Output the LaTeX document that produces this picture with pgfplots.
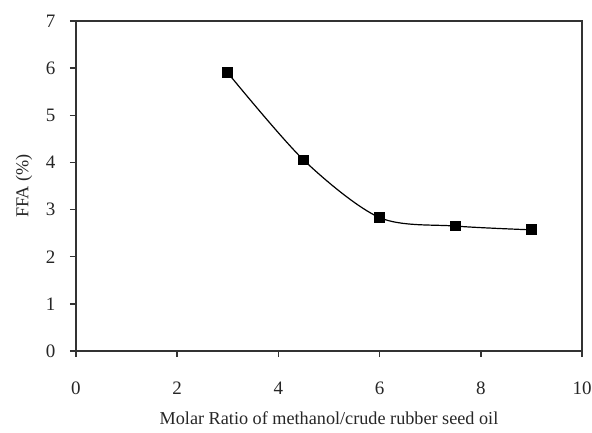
\documentclass[border=0pt]{standalone}
\usepackage{fontspec}
\setmainfont{Liberation Serif}
\usepackage{pgfplots}
\pgfplotsset{compat=1.18}
\begin{document}
\fontsize{19}{22}\selectfont
\begin{tikzpicture}
\useasboundingbox (-76pt,-81pt) rectangle (516pt,351pt);
\begin{axis}[
  at={(0pt,0pt)}, anchor=south west,
  scale only axis, width=506pt, height=330pt,
  xmin=0, xmax=10, ymin=0, ymax=7,
  xtick={0,2,...,10}, ytick={0,1,...,7},
  tick align=outside, major tick length=6pt,
  xtick pos=left, ytick pos=left,
  axis line style={line width=1.5pt, color=black!80},
  tick style={line width=1.5pt, color=black!80},
  /pgf/number format/assume math mode=true,
  ticklabel style={font=\fontsize{19}{22}\selectfont, text=black!85},
  xticklabel style={yshift=-18pt},
  yticklabel style={xshift=-8pt},
  xlabel={Molar Ratio of methanol/crude rubber seed oil},
  ylabel={FFA (\%)},
  label style={font=\fontsize{18.2}{22}\selectfont, text=black!85},
  xlabel style={at={(axis description cs:0.5,-0.203)}, anchor=center},
  ylabel style={at={(axis description cs:-0.103,0.5)}, anchor=center},
  clip=false,
]
\addplot[black, line width=1.2pt, smooth, mark=square*, mark size=4.8pt, mark options={solid}]
  coordinates {(3,5.9) (4.5,4.05) (6,2.83) (7.5,2.65) (9,2.57)};
\end{axis}
\draw[line width=1.5pt, black!80] (0pt,330pt) -- (506pt,330pt) -- (506pt,0pt);
\end{tikzpicture}
\end{document}
